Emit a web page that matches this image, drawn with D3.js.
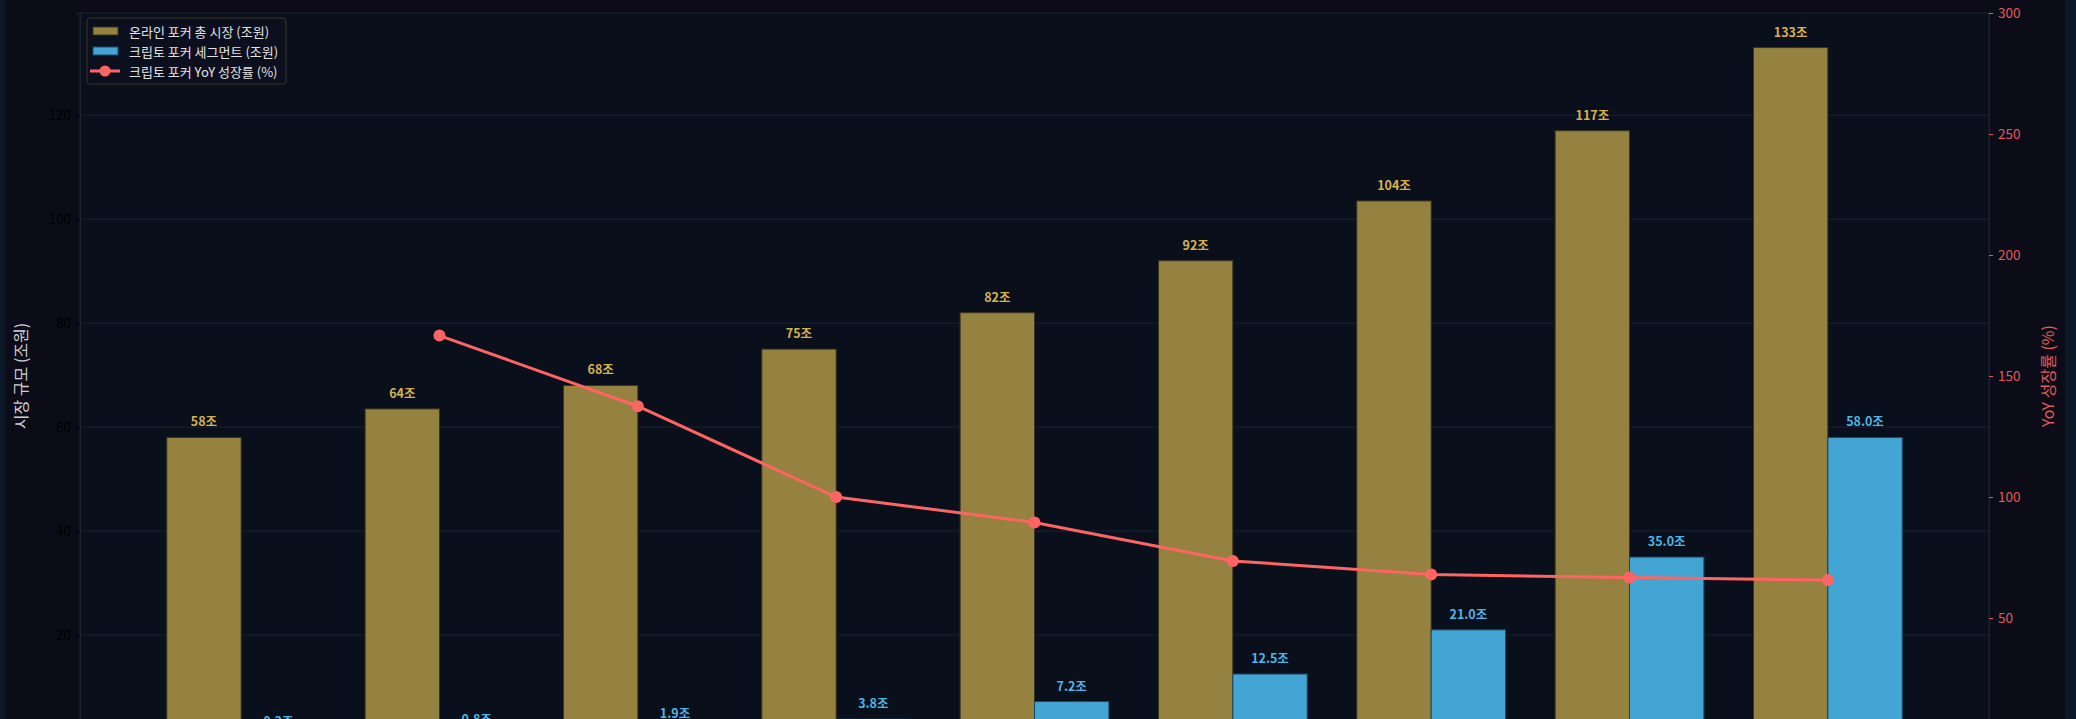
<!DOCTYPE html>
<html>
<head>
<meta charset="utf-8">
<script src="https://cdn.jsdelivr.net/npm/d3@7"></script>
<style>
  html, body { margin: 0; padding: 0; background: #0c0c18; }
  #chart { width: 2076px; height: 719px; overflow: hidden; }
  text { font-family: "Noto Sans CJK KR", "Noto Sans", sans-serif; }
</style>
</head>
<body>
<div id="chart"></div>
<script>
const years = ['2022', '2023', '2024', '2025', '2026', '2027', '2028', '2029', '2030'];
const totalMarket = [58, 63.5, 68, 75, 82, 92, 103.5, 117, 133];
const cryptoSegment = [0.3, 0.8, 1.9, 3.8, 7.2, 12.5, 21.0, 35.0, 58.0];
const cryptoYoY = [null, 166.7, 137.5, 100.0, 89.5, 73.6, 68.0, 66.7, 65.7];
const leftTicks = [20, 40, 60, 80, 100, 120];
const rightTicks = [50, 100, 150, 200, 250, 300];
const legendLabels = ['온라인 포커 총 시장 (조원)', '크립토 포커 세그먼트 (조원)', '크립토 포커 YoY 성장률 (%)'];

const GOLD = '#968240', GOLD_TXT = '#d6b24e';
const BLUE = '#42a5d3', BLUE_TXT = '#4fb4e6';
const RED = '#ff6464';

const W = 2076, H = 719;
const margin = {top: 13, right: 87, bottom: 0, left: 80};
const plotBottom = 739;   // the source image is cut just above the x axis
const barW = 0.375;

const svg = d3.select('#chart').append('svg')
    .attr('width', W).attr('height', H);

// side strips
svg.append('rect').attr('x', 0).attr('y', 0).attr('width', 5).attr('height', H).attr('fill', '#0b1828');
svg.append('rect').attr('x', 2065).attr('y', 0).attr('width', 11).attr('height', H).attr('fill', '#0b1828');

const x = d3.scaleLinear().domain([-0.8125, years.length - 1 + 0.8125]).range([margin.left, W - margin.right]);
const y = d3.scaleLinear().domain([0, d3.max(totalMarket) * 1.05]).range([plotBottom, margin.top]);
const y2 = d3.scaleLinear().domain([0, 300]).range([plotBottom, margin.top]);
const bw = x(barW) - x(0);

// plot background
svg.append('rect')
    .attr('x', margin.left).attr('y', margin.top)
    .attr('width', x.range()[1] - x.range()[0]).attr('height', plotBottom - margin.top)
    .attr('fill', '#0a0f1c').attr('stroke', '#1a2334');

// grid
svg.append('g').selectAll('line').data(leftTicks).enter()
    .append('line')
    .attr('x1', x.range()[0]).attr('x2', x.range()[1])
    .attr('y1', d => y(d)).attr('y2', d => y(d))
    .attr('stroke', '#1a2232').attr('stroke-width', 1);

// left axis
const gl = svg.append('g').attr('transform', `translate(${margin.left},0)`)
    .call(d3.axisLeft(y).tickValues(leftTicks).tickSize(4).tickPadding(5));
gl.select('.domain').attr('stroke', '#1a2334');
gl.selectAll('.tick line').attr('stroke', '#000000');
gl.selectAll('.tick text').attr('fill', '#000000').style('font-size', '13.5px');

// right axis
const gr = svg.append('g').attr('transform', `translate(${x.range()[1]},0)`)
    .call(d3.axisRight(y2).tickValues(rightTicks).tickSize(4).tickPadding(5));
gr.select('.domain').attr('stroke', '#1a2334');
gr.selectAll('.tick line').attr('stroke', '#e05a5a');
gr.selectAll('.tick text').attr('fill', '#e05a5a').style('font-size', '13.5px');

// axis titles
const midY = (margin.top + plotBottom) / 2;
svg.append('text')
    .attr('transform', `translate(20,${midY}) rotate(-90)`)
    .attr('text-anchor', 'middle').attr('dominant-baseline', 'central')
    .attr('fill', '#d0d0d0').style('font-size', '16px')
    .text('시장 규모 (조원)');
svg.append('text')
    .attr('transform', `translate(2047,${midY}) rotate(-90)`)
    .attr('text-anchor', 'middle').attr('dominant-baseline', 'central')
    .attr('fill', '#e05a5a').style('font-size', '16px')
    .text('YoY 성장률 (%)');

// bars
svg.append('g').selectAll('rect').data(totalMarket).enter()
    .append('rect')
    .attr('x', (d, i) => x(i) - bw)
    .attr('y', d => y(d))
    .attr('width', bw).attr('height', d => plotBottom - y(d))
    .attr('fill', GOLD).attr('stroke', '#3a3320').attr('stroke-width', 1);

svg.append('g').selectAll('rect').data(cryptoSegment).enter()
    .append('rect')
    .attr('x', (d, i) => x(i))
    .attr('y', d => y(d))
    .attr('width', bw).attr('height', d => plotBottom - y(d))
    .attr('fill', BLUE).attr('stroke', '#1b4a66').attr('stroke-width', 1);

// bar labels
svg.append('g').selectAll('text').data(totalMarket).enter()
    .append('text')
    .attr('x', (d, i) => x(i) - bw / 2)
    .attr('y', d => y(d) - 11)
    .attr('text-anchor', 'middle')
    .attr('fill', GOLD_TXT).style('font-size', '12.5px').style('font-weight', 'bold')
    .text(d => d.toFixed(0) + '조');

svg.append('g').selectAll('text').data(cryptoSegment).enter()
    .append('text')
    .attr('x', (d, i) => x(i) + bw / 2)
    .attr('y', d => y(d) - 11)
    .attr('text-anchor', 'middle')
    .attr('fill', BLUE_TXT).style('font-size', '12.5px').style('font-weight', 'bold')
    .text(d => d.toFixed(1) + '조');

// YoY line
const yoyPts = cryptoYoY.map((v, i) => ({i, v})).filter(d => d.v !== null);
svg.append('path')
    .datum(yoyPts)
    .attr('d', d3.line().x(d => x(d.i)).y(d => y2(d.v)))
    .attr('fill', 'none').attr('stroke', RED).attr('stroke-width', 3);
svg.append('g').selectAll('circle').data(yoyPts).enter()
    .append('circle')
    .attr('cx', d => x(d.i)).attr('cy', d => y2(d.v)).attr('r', 6)
    .attr('fill', RED);

// legend
const lg = svg.append('g').attr('transform', 'translate(87,18)');
lg.append('rect').attr('width', 199).attr('height', 66).attr('rx', 3)
    .attr('fill', '#0c101e').attr('stroke', '#3b3523');
const rows = lg.selectAll('g.row').data(legendLabels).enter()
    .append('g').attr('class', 'row')
    .attr('transform', (d, i) => `translate(0,${13 + i * 20})`);
rows.filter((d, i) => i < 2).append('rect')
    .attr('x', 6).attr('y', -4).attr('width', 25).attr('height', 8)
    .attr('fill', (d, i) => i === 0 ? GOLD : BLUE)
    .attr('stroke', (d, i) => i === 0 ? '#3a3320' : '#1b4a66');
const lineRow = rows.filter((d, i) => i === 2);
lineRow.append('line').attr('x1', 3).attr('x2', 33).attr('y1', 0).attr('y2', 0)
    .attr('stroke', RED).attr('stroke-width', 3);
lineRow.append('circle').attr('cx', 18).attr('cy', 0).attr('r', 5.5).attr('fill', RED);
rows.append('text')
    .attr('x', 42).attr('y', 0).attr('dominant-baseline', 'central')
    .attr('fill', '#e2e2e2').style('font-size', '13px')
    .text(d => d);
</script>
</body>
</html>
